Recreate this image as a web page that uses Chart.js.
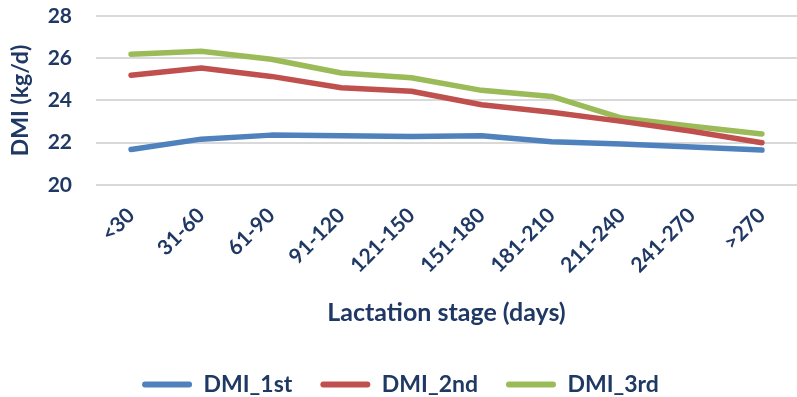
<!DOCTYPE html>
<html>
<head>
<meta charset="utf-8">
<script src="https://cdn.jsdelivr.net/npm/chart.js@4"></script>
<style>
  html, body { margin: 0; padding: 0; background: #fff; }
  #wrap { width: 797px; height: 397px; }
</style>
</head>
<body>
<div id="wrap"><canvas id="myChart" width="797" height="397"></canvas></div>
<script>
// lactation stage categories along the x-axis
var stages = ['<30', '31-60', '61-90', '91-120', '121-150', '151-180', '181-210', '211-240', '241-270', '>270'];
// dry matter intake per parity (kg/d)
var dmi1st = [21.68, 22.17, 22.36, 22.33, 22.30, 22.33, 22.05, 21.94, 21.80, 21.65];
var dmi2nd = [25.19, 25.54, 25.14, 24.60, 24.44, 23.80, 23.44, 23.01, 22.54, 22.00];
var dmi3rd = [26.19, 26.33, 25.95, 25.30, 25.08, 24.48, 24.19, 23.17, 22.78, 22.41];
var yTicks = [20, 22, 24, 26, 28];

var navy = '#1F3864';
var fontFam = 'Lato, "Open Sans", sans-serif';

var ctx = document.getElementById('myChart');
var myChart = new Chart(ctx, {
  type: 'line',
  data: {
    labels: stages,
    datasets: [
      { label: 'DMI_1st', data: dmi1st, borderColor: '#4F81BD', backgroundColor: '#4F81BD', borderWidth: 5.5 },
      { label: 'DMI_2nd', data: dmi2nd, borderColor: '#C0504D', backgroundColor: '#C0504D', borderWidth: 5.5 },
      { label: 'DMI_3rd', data: dmi3rd, borderColor: '#9BBB59', backgroundColor: '#9BBB59', borderWidth: 5.5 }
    ]
  },
  options: {
    responsive: false,
    animation: false,
    layout: { padding: { left: 4, right: 0, top: 4, bottom: -9 } },
    elements: {
      line: { tension: 0, borderCapStyle: 'round', borderJoinStyle: 'round', fill: false },
      point: { radius: 0, hoverRadius: 0 }
    },
    plugins: {
      tooltip: { enabled: false },
      legend: {
        position: 'bottom',
        labels: {
          boxWidth: 50,
          boxHeight: 6,
          padding: 28,
          useBorderRadius: true,
          borderRadius: 3,
          color: navy,
          font: { family: fontFam, size: 23, weight: 'bold' },
          generateLabels: function (chart) {
            var items = Chart.defaults.plugins.legend.labels.generateLabels(chart);
            items.forEach(function (it) { it.lineWidth = 0; });
            return items;
          }
        }
      }
    },
    scales: {
      x: {
        offset: true,
        grid: { display: false },
        border: { display: false },
        ticks: {
          minRotation: 45, maxRotation: 45,
          color: navy,
          padding: 10,
          font: { family: fontFam, size: 21, weight: 'bold' }
        },
        title: {
          display: true,
          text: 'Lactation stage (days)',
          color: navy,
          padding: { top: 10, bottom: 17 },
          font: { family: fontFam, size: 25, weight: 'bold' }
        }
      },
      y: {
        min: 20, max: 28,
        afterBuildTicks: function (axis) {
          axis.ticks = yTicks.map(function (v) { return { value: v }; });
        },
        afterFit: function (axis) {
          axis.width = 92;
          axis.paddingTop = 16;
          axis.paddingBottom = 12;
        },
        grid: { color: '#D9D9D9', lineWidth: 2, drawTicks: false },
        border: { display: false },
        ticks: {
          color: navy,
          padding: 24,
          font: { family: fontFam, size: 21, weight: 'bold' }
        },
        title: {
          display: true,
          text: 'DMI (kg/d)',
          color: navy,
          padding: { top: 3, bottom: 0 },
          font: { family: fontFam, size: 23, weight: 'bold' }
        }
      }
    }
  }
});
</script>
</body>
</html>
